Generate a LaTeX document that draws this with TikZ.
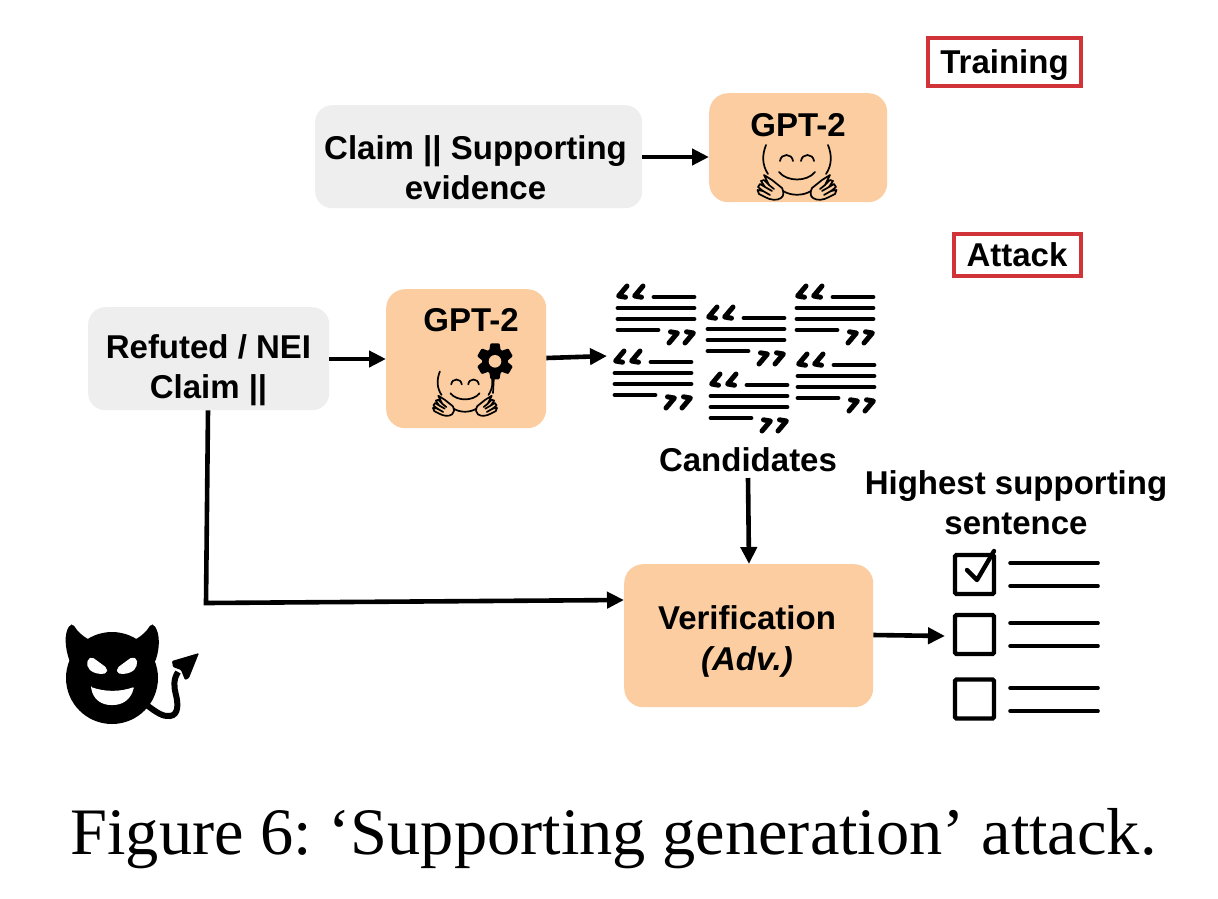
\documentclass[tikz,border=0pt]{standalone}
\usepackage{fontspec}
\setmainfont{Liberation Sans}
\newfontfamily\capfont{Liberation Serif}
\usetikzlibrary{arrows.meta}
\definecolor{peach}{HTML}{FBCDA0}
\definecolor{lightgray}{HTML}{EEEEEE}
\definecolor{framered}{HTML}{D13438}
\tikzset{
  x=1pt,y=-1pt,
  lab/.style={font=\fontsize{33}{40}\selectfont\bfseries,align=center,inner sep=0pt,text=black},
  graybox/.style={fill=lightgray,rounded corners=17pt,anchor=north west,inner sep=0pt},
  peachbox/.style={fill=peach,rounded corners=19pt,anchor=north west,inner sep=0pt},
  redframe/.style={draw=framered,line width=4pt,anchor=north west,inner sep=0pt},
  link/.style={draw=black,line width=4.6pt,-{Triangle[length=17pt,width=16pt]}},
  face/.style={draw=black,line width=1.7pt,line cap=round,line join=round},
  rule/.style={draw=black,line width=4.8pt,line cap=round,line join=round},
  tick/.style={draw=black,line width=3.6pt,line cap=round},
  cbox/.style={draw=black,line width=4.4pt,rounded corners=1.5pt},
  hug/.pic={
    \draw[face] (-31,-18) .. controls (-35,-8) and (-35,2) .. (-29,11);
    \draw[face] (31,-18) .. controls (35,-8) and (35,2) .. (29,11);
    \draw[face] (-17,-2) .. controls (-16,-10) and (-5,-10) .. (-4,-2);
    \draw[face] (4,-2) .. controls (5,-10) and (16,-10) .. (17,-2);
    \draw[face] (-18,9) .. controls (-10,19) and (10,19) .. (18,9);
    \draw[face] (-14,28) .. controls (-6,33) and (6,33) .. (14,28);
    \foreach \s in {1,-1}{
      \begin{scope}[xscale=\s]
      \draw[face] (-33,12) -- (-25,17) -- (-15,25) .. controls (-13,29) and (-13,33) .. (-16,35)
        .. controls (-20,38) and (-27,37) .. (-32,34) -- (-38,31) -- (-39.5,27) -- (-34,28) -- (-39,24) -- (-37,21) -- (-32,24) -- (-36,18) -- (-33,17) -- (-28,22) -- cycle;
      \draw[face] (-34,28) -- (-27,32);
      \draw[face] (-32,24) -- (-25,28);
      \draw[face] (-28,22) -- (-23,26);
      \end{scope}
    }
  },
  quoteblock/.pic={
    \foreach \d in {0,16}{
      \draw[rule,line width=5pt,shift={(\d,0)}] (11,1) -- (2.6,11) -- (9.5,12.2);
      \draw[rule,line width=5pt,shift={(80-\d,59)},rotate=180] (11,1) -- (2.6,11) -- (9.5,12.2);
    }
    \draw[rule] (38,12) -- (78,12);
    \draw[rule] (2,23) -- (78,23);
    \draw[rule] (2,34) -- (78,34);
    \draw[rule] (2,45) -- (42,45);
  }
}
\begin{document}
\begin{tikzpicture}
\useasboundingbox (0,0) rectangle (1218,898);
\fill[white] (0,0) rectangle (1218,898);

% frames
\node[redframe,minimum width=153pt,minimum height=48pt] (training) at (926,36) {};
\node[lab] (traininglabel) at (1004.5,65) {Training};
\node[redframe,minimum width=127pt,minimum height=42pt] (attack) at (952,232) {};
\node[lab] (attacklabel) at (1017,255) {Attack};

% training row
\node[graybox,minimum width=327pt,minimum height=103pt] (claim) at (315,105) {};
\node[lab] (claimlabel) at (475.5,168) {Claim || Supporting\\evidence};
\node[peachbox,minimum width=178pt,minimum height=109pt] (gpta) at (709,93) {};
\node[lab] (gptalabel) at (798,125) {GPT-2};
\pic at (797,163) {hug};

% attack row
\node[graybox,minimum width=241pt,minimum height=103pt] (refuted) at (88,307) {};
\node[lab] (refutedlabel) at (208.5,370) {Refuted / NEI\\Claim ||};
\node[peachbox,minimum width=160pt,minimum height=139pt] (gptb) at (386,289) {};
\node[lab] (gptblabel) at (471,320) {GPT-2};
\pic[scale=0.81] at (465,386) {hug};
% gear
\draw[black,line width=1.7pt,line cap=round] (494,375) -- (493,393);
\fill[black] (495,361.3) circle[radius=13pt];
\foreach \a in {0,60,...,300}{
  \fill[black,rotate around={\a:(495,361.3)},rounded corners=1pt] (489,352) -- (490.5,343.3) -- (499.5,343.3) -- (501,352) -- cycle;
}
\fill[peach] (495,361.3) circle[radius=6.3pt];

% candidates
\pic at (616,285) {quoteblock};
\pic at (706,306) {quoteblock};
\pic at (795,285) {quoteblock};
\pic at (613,350) {quoteblock};
\pic at (709,373) {quoteblock};
\pic at (796,353) {quoteblock};
\coordinate (cands) at (607,356);
\node[lab] (candlabel) at (748,460) {Candidates};
\coordinate (candfoot) at (748,478);

% verification
\node[peachbox,minimum width=249pt,minimum height=143pt] (verif) at (624,564) {};
\node[lab] (veriflabel) at (747,641.5) {Verification\\[1pt]{\itshape(Adv.)}};

% checklist
\node[lab] (high) at (1016,503) {Highest supporting\\sentence};
\node[cbox,minimum width=39pt,minimum height=39pt,inner sep=0pt] (c1) at (974.5,574.5) {};
\node[cbox,minimum width=39pt,minimum height=39pt,inner sep=0pt] (c2) at (974.5,634.5) {};
\node[cbox,minimum width=39pt,minimum height=39pt,inner sep=0pt] (c3) at (974.5,699) {};
\coordinate (c2tip) at (945,636);
\draw[tick,line width=4.4pt,line join=round] (967,570) -- (977,580) -- (994,551);
\draw[tick] (1010,563) -- (1098,563);
\draw[tick] (1010,586) -- (1098,586);
\draw[tick] (1010,623) -- (1098,623);
\draw[tick] (1010,646) -- (1098,646);
\draw[tick] (1010,688) -- (1098,688);
\draw[tick] (1010,711) -- (1098,711);

% connectors
\draw[link] (claim.east |- 0,157) -- (gpta.west |- 0,157);
\draw[link] (refuted.east |- 0,359) -- (gptb.west |- 0,359);
\draw[link] (gptb.east |- 0,358) -- (cands);
\draw[link] (candfoot) -- (verif.north -| 749,0);
\draw[link,line join=miter] (refuted.south -| 208,0) -- (206,603) -- (verif.west |- 0,600);
\draw[link] (verif.east |- 0,635) -- (c2tip);

% devil
\fill[black] (112,678) circle[radius=46pt];
\fill[black,rounded corners=2pt] (70,662) .. controls (65,648) and (64,634) .. (70,625) -- (73,624) .. controls (77,631) and (83,637) .. (94,642) -- cycle;
\fill[black,rounded corners=2pt] (155,662) .. controls (160,648) and (160,634) .. (154,625) -- (151,624) .. controls (147,631) and (141,637) .. (130,642) -- cycle;
\fill[white,rounded corners=2pt] (88,659) -- (92,657) -- (107,668) -- (107,673) .. controls (98,675) and (89,672) .. (87,664) -- cycle;
\fill[white,rounded corners=2pt] (137,659) -- (132,657) -- (117,668) -- (117,673) .. controls (126,675) and (135,672) .. (137,664) -- cycle;
\fill[white,rounded corners=1pt] (91,687) .. controls (105,692) and (120,692) .. (134,687) .. controls (131,700) and (122,705) .. (112,705) .. controls (102,705) and (93,700) .. (91,687) -- cycle;
\draw[black,line width=6pt] (148,706) .. controls (156,712) and (163,717) .. (170,716) .. controls (179,715) and (178,703) .. (176,695) .. controls (174,687) and (173,680) .. (178,672);
\fill[black,rounded corners=1pt] (199,653) -- (172,661) -- (173,667) -- (181,670) -- (185,680) -- (189,678) -- cycle;

% caption
\node[inner sep=0pt,font=\fontsize{66.4}{72}\selectfont\capfont\frenchspacing] (caption) at (613.5,839) {Figure 6: ‘Supporting generation’ attack.};
\end{tikzpicture}
\end{document}
